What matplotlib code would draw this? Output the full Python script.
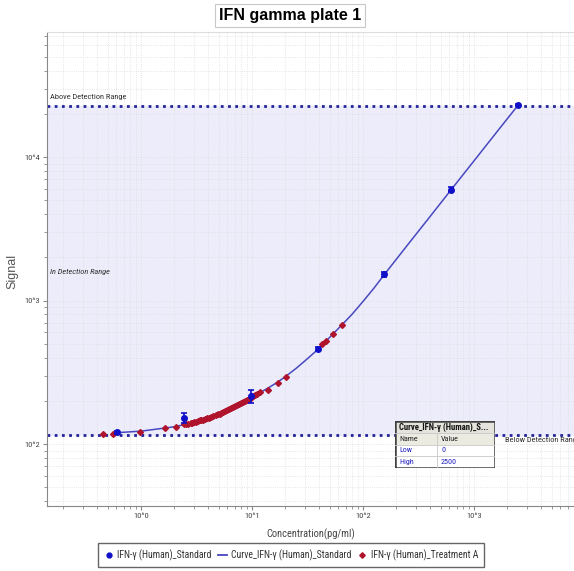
import matplotlib
matplotlib.use('Agg')
import matplotlib.pyplot as plt
from matplotlib.patches import Rectangle
from matplotlib.lines import Line2D

# Standard dilution series (mean signal and spread).
std_conc = [0.61, 2.44, 9.77, 39.06, 156.25, 625, 2500]
std_mean = [121, 152, 216, 459, 1520, 5940, 23000]
std_err = [3, 12, 22, 12, 60, 250, 300]

# Fitted standard curve.
curve_conc = [0.6, 1.0, 1.6, 2.0, 2.5, 3.0, 4.0, 5.0, 6.0, 7.0, 8.0, 10.0,
              12.0, 14.0, 17.0, 20.0, 25.0, 30.0, 35.0, 40.0, 50.0, 65.0,
              80.0, 100.0, 125.0, 156.0, 250.0, 400.0, 625.0, 1000.0,
              1600.0, 2500.0]
curve_sig = [120, 123, 129, 132, 137, 142, 152, 162, 173, 183, 194, 212,
             230, 246, 270, 295, 337, 380, 422, 462, 553, 680,
             805, 985, 1215, 1520, 2420, 3830, 5940, 9400,
             14900, 23000]

# Treatment A samples.
trt_conc = [0.455, 0.56, 0.98, 1.64, 2.07,
            2.45, 2.55, 2.65, 2.8, 2.9, 3.0, 3.1, 3.25, 3.4, 3.5, 3.65, 3.8,
            3.95, 4.1, 4.3, 4.5, 4.7, 4.9, 5.1, 5.3, 5.5, 5.75, 6.0, 6.25,
            6.5, 6.8, 7.1, 7.4, 7.7, 8.0, 8.3, 8.6, 9.0, 9.4, 9.8, 10.2,
            10.7, 11.2, 11.8,
            13.9, 17.1, 20.2, 42.6, 46.3, 53.5, 64.6]
trt_sig = [117, 118, 121, 129, 131,
           137, 138, 139, 140, 141, 142, 143, 144, 146, 147, 148, 150,
           151, 153, 155, 157, 159, 161, 163, 165, 167, 170, 172, 175,
           177, 180, 184, 187, 190, 193, 196, 199, 203, 207, 211, 215,
           220, 224, 229,
           238, 266, 293, 498, 523, 585, 674]

low_limit = 115.5
high_limit = 22600
x_ticks = [1, 10, 100, 1000]
x_labels = ['10^0', '10^1', '10^2', '10^3']
y_ticks = [100, 1000, 10000]
y_labels = ['10^2', '10^3', '10^4']

narrow = ['Liberation Sans Narrow', 'Roboto Condensed', 'Liberation Sans',
          'DejaVu Sans']
plt.rcParams['font.family'] = narrow

fig = plt.figure(figsize=(5.74, 5.71), dpi=100)
ax = fig.add_axes([0.0819, 0.1138, 0.918, 0.830])
ax.set_xscale('log')
ax.set_yscale('log')
ax.set_xlim(0.1423, 7960)
ax.set_ylim(37, 74300)

# Detection range band and limits.
ax.axhspan(low_limit, high_limit, color='#ececfb', zorder=0)
ax.axhline(high_limit, color='#23239a', ls=(0, (1, 1.6)), lw=2, zorder=2)
ax.axhline(low_limit, color='#23239a', ls=(0, (1, 1.6)), lw=2, zorder=2)

ax.grid(True, which='both', color='#dedede', ls=':', lw=0.6, zorder=1)
ax.set_axisbelow(True)

ax.plot(curve_conc, curve_sig, color='#4848c0', lw=1.1, zorder=3)
ax.plot(trt_conc, trt_sig, ls='none', marker='D', ms=3, color='#b0142c',
        mec='#b0142c', zorder=4)
ax.errorbar(std_conc, std_mean, yerr=std_err, fmt='o', ms=4, color='#1010c8',
            ecolor='#1010c8', elinewidth=1.2, capsize=2.5, capthick=1.2, zorder=5)

ax.text(0.006, high_limit * 1.1, 'Above Detection Range', fontsize=6,
        color='#333333', va='bottom', ha='left',
        transform=ax.get_yaxis_transform())
ax.text(0.006, 1580, 'In Detection Range', fontsize=6, style='italic',
        color='#333333', va='center', ha='left',
        transform=ax.get_yaxis_transform())
ax.text(0.87, low_limit * 0.97, 'Below Detection Range', fontsize=6,
        color='#333333', va='top', ha='left',
        transform=ax.get_yaxis_transform())

ax.set_xticks(x_ticks)
ax.set_xticklabels(x_labels)
ax.set_yticks(y_ticks)
ax.set_yticklabels(y_labels)
ax.tick_params(which='both', colors='#888888', labelcolor='#444444',
               labelsize=6, pad=2)
ax.tick_params(which='major', length=3)
ax.tick_params(which='minor', length=2)
ax.minorticks_on()
for s in ['left', 'bottom']:
    ax.spines[s].set_color('#888888')
ax.spines['top'].set_color('#dddddd')
ax.spines['right'].set_visible(False)

ax.set_xlabel('Concentration(pg/ml)', fontsize=7.5, color='#444444')
ax.xaxis.set_label_coords(0.5, -0.048)
ax.set_ylabel('Signal', fontsize=9, color='#555555',
              family=['Liberation Sans', 'DejaVu Sans'])
ax.yaxis.set_label_coords(-0.055, 0.494)

fig.text(0.505, 0.973, 'IFN gamma plate 1', fontsize=11.5, fontweight='bold',
         family=['Liberation Sans', 'DejaVu Sans'], ha='center', va='center',
         bbox=dict(boxstyle='square,pad=0.25', fc='white', ec='#c8c8c8', lw=0.8))

# Inset parameter table.
tab = fig.add_axes([395 / 574, 1 - 468 / 571, 100 / 574, 47 / 571])
tab.set_xlim(0, 1)
tab.set_ylim(0, 4)
tab.axis('off')
tab.add_patch(Rectangle((0, 3), 1, 1, fc='#e4e4dc', ec='none'))
tab.add_patch(Rectangle((0, 2), 1, 1, fc='#ecebe2', ec='none'))
tab.add_patch(Rectangle((0, 0), 1, 2, fc='white', ec='none'))
for yy in [1, 2, 3]:
    tab.plot([0, 1], [yy, yy], color='#c8c8c8', lw=0.6)
tab.plot([0.42, 0.42], [0, 3], color='#c8c8c8', lw=0.6)
tab.add_patch(Rectangle((0, 0), 1, 4, fc='none', ec='#404040', lw=1.8))
tab.text(0.04, 3.5, 'Curve_IFN-γ (Human)_S...', fontsize=6.2, fontweight='bold',
         va='center', color='#111111')
rows = [('Name', 'Value', '#222222'), ('Low', '0', '#2020c0'),
        ('High', '2500', '#2020c0')]
for i, (a, b, c) in enumerate(rows):
    tab.text(0.04, 2.5 - i, a, fontsize=5.8, va='center', color=c)
    tab.text(0.46, 2.5 - i, b, fontsize=5.8, va='center',
             color='#222222' if i == 0 else '#2020c0')

handles = [
    Line2D([], [], ls='none', marker='o', ms=3.5, color='#1010c8'),
    Line2D([], [], color='#4848c0', lw=1.3),
    Line2D([], [], ls='none', marker='D', ms=2.8, color='#b0142c'),
]
labels = ['IFN-γ (Human)_Standard', 'Curve_IFN-γ (Human)_Standard',
          'IFN-γ (Human)_Treatment A']
leg = fig.legend(handles, labels, loc='center', ncol=3,
                 bbox_to_anchor=(291 / 574, 1 - 555 / 571), fontsize=7,
                 frameon=True, fancybox=False, edgecolor='#404040',
                 handlelength=1.0, handletextpad=0.4, columnspacing=0.6,
                 borderpad=0.6)
leg.get_frame().set_linewidth(1.0)
for t in leg.get_texts():
    t.set_color('#333333')

fig.savefig('out.png', dpi=100)
